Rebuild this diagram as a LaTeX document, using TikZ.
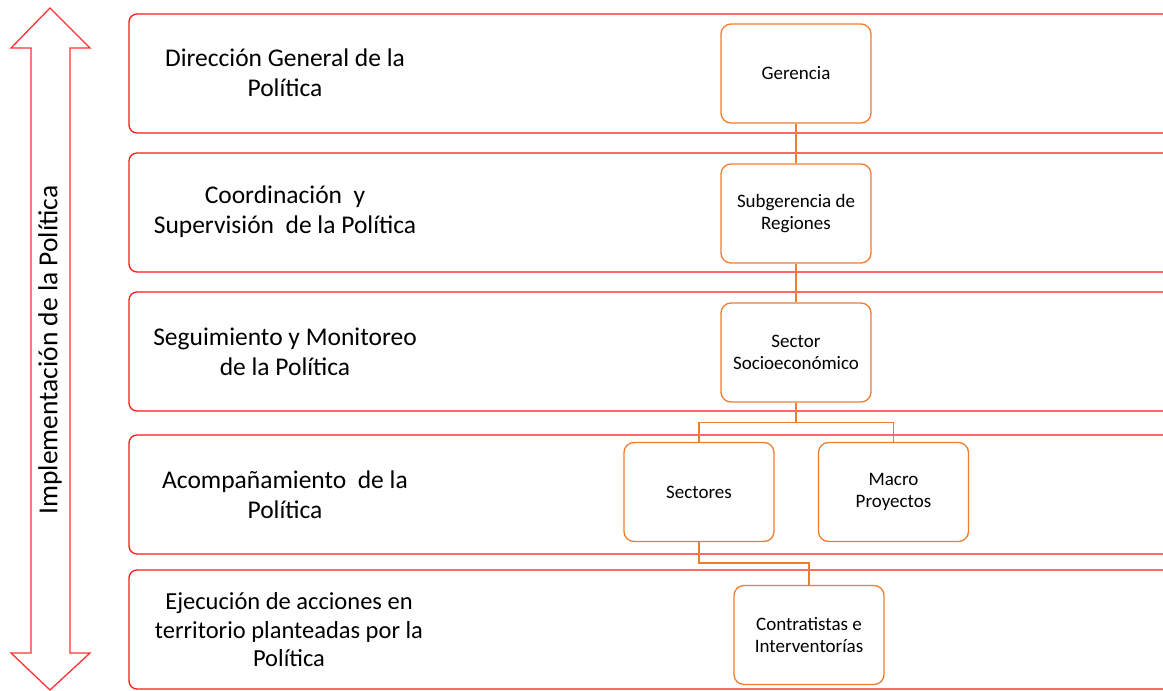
\documentclass[tikz,border=0pt]{standalone}
\usepackage{fontspec}
\setmainfont{Carlito}
\begin{document}
\begin{tikzpicture}[x=1pt,y=-1pt,
  rowbox/.style={draw=red!90!white, line width=1.3pt, rounded corners=8pt, minimum width=1046pt, minimum height=119pt, inner sep=0pt},
  rowlabel/.style={align=center, font=\fontsize{25.5}{30}\selectfont, text=black},
  orgbox/.style={draw=orgorange, line width=1.3pt, rounded corners=10pt, minimum width=150pt, minimum height=99pt, inner sep=2pt, align=center, font=\fontsize{19}{22}\selectfont},
  orgline/.style={draw=orgorange, line width=1.4pt},
  bigarrow/.style={draw=red!80!white, line width=1.3pt, line join=miter}
]
\definecolor{orgorange}{HTML}{ED7D31}
\clip (0,0) rectangle (1163,691);
\fill[white] (0,0) rectangle (1163,691);

% double arrow
\draw[bigarrow] (50,8) -- (90,48) -- (70,48) -- (70,653) -- (90,653) -- (50,690) -- (11,653) -- (31,653) -- (31,48) -- (11,48) -- cycle;
\node[rotate=90, font=\fontsize{27.5}{32}\selectfont] (impl) at (50,350) {Implementación de la Política};

% row boxes
\node[rowbox] (r1) at (652,73.5) {};
\node[rowbox] (r2) at (652,212.5) {};
\node[rowbox] (r3) at (652,351.5) {};
\node[rowbox] (r4) at (652,494.5) {};
\node[rowbox] (r5) at (652,629.5) {};

% row labels
\node[rowlabel] (l1) at (285,73) {Dirección General de la\\Política};
\node[rowlabel] (l2) at (285,212) {Coordinación~ y\\Supervisión~ de la Política};
\node[rowlabel] (l3) at (285,352) {Seguimiento y Monitoreo\\de la Política};
\node[rowlabel] (l4) at (285,495) {Acompañamiento~ de la\\Política};
\node[rowlabel, font=\fontsize{24.5}{28.5}\selectfont] (l5) at (289,630) {Ejecución de acciones en\\territorio planteadas por la\\Política};

% org boxes
\node[orgbox] (ger) at (796,73.5) {Gerencia};
\node[orgbox] (sub) at (796,213.5) {Subgerencia de\\Regiones};
\node[orgbox] (soc) at (796,352.5) {Sector\\Socioeconómico};
\node[orgbox] (sec) at (699,492) {Sectores};
\node[orgbox] (mac) at (893.5,492) {Macro\\Proyectos};
\node[orgbox] (con) at (809,635) {Contratistas e\\Interventorías};

% connectors
\draw[orgline] (ger.south) -- (sub.north);
\draw[orgline] (sub.south) -- (soc.north);
\draw[orgline] (soc.south) -- ++(0,20) coordinate (j1);
\draw[orgline] (j1) -| (sec.north);
\draw[orgline] (j1) -| (mac.north);
\draw[orgline] (sec.south) -- ++(0,21) coordinate (j2) -| (con.north);
\end{tikzpicture}
\end{document}
